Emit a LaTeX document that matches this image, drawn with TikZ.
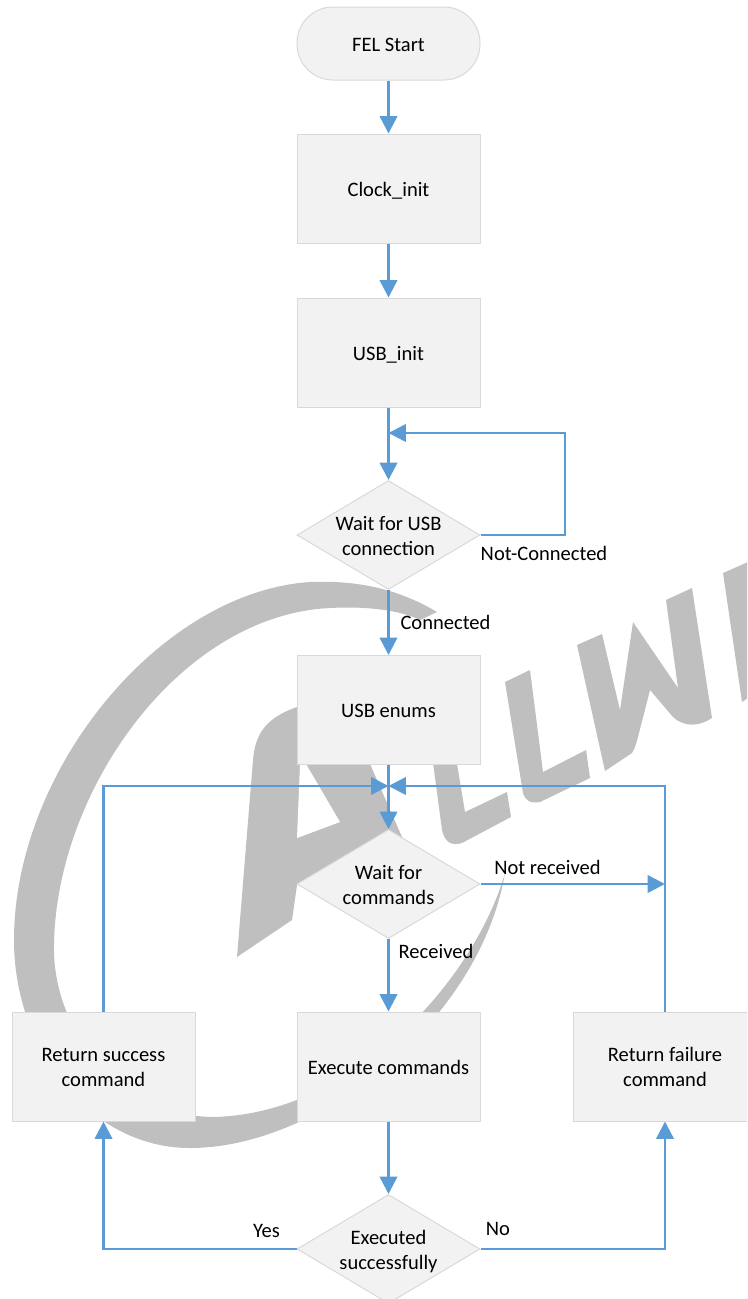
\documentclass[tikz,border=0pt]{standalone}
\usepackage{fontspec}
\setmainfont{Carlito}
\usetikzlibrary{shapes.geometric,arrows.meta}
\definecolor{flow}{HTML}{5B9BD5}
\definecolor{boxfill}{HTML}{F2F2F2}
\definecolor{boxline}{HTML}{D9D9D9}
\definecolor{wm}{HTML}{BFBFBF}
\newcommand\upad[1]{\rule{0pt}{#1}}
\tikzset{
  lab/.style={font=\fontsize{15.4pt}{18.75pt}\selectfont,inner sep=0pt,text=black},
  lowered/.style={execute at begin node={\rule{0pt}{15.5pt}},execute at end node={\rule[-4pt]{0pt}{4pt}}},
  procbox/.style={draw=boxline,fill=boxfill,line width=0.75pt,rectangle,minimum width=137.25pt,minimum height=81.75pt,inner sep=0pt,align=center,font=\fontsize{15.4pt}{18.75pt}\selectfont},
  startbox/.style={procbox,minimum height=54.75pt,rounded corners=27pt},
  decbox/.style={draw=boxline,fill=boxfill,line width=0.75pt,diamond,aspect=1.69,minimum width=137.25pt,minimum height=81.75pt,inner sep=0pt,align=center,font=\fontsize{15.4pt}{18.75pt}\selectfont},
  link/.style={draw=flow,line width=1.9pt,-{Triangle[width=13pt,length=13pt]}}
}
\begin{document}
\begin{tikzpicture}[x=0.75pt,y=-0.75pt]
\useasboundingbox (0,0) rectangle (747,1299);
\clip (0,0) rectangle (747,1299);
% watermark
\fill[wm] (437,612) .. controls (400,590) and (360,580) .. (310,582)
  .. controls (160,592) and (14,770) .. (14,940)
  .. controls (14,1050) and (90,1148) .. (190,1148)
  .. controls (320,1148) and (480,1020) .. (505,873)
  .. controls (476,975) and (360,1112) .. (215,1117)
  .. controls (120,1117) and (52,1030) .. (54,945)
  .. controls (56,790) and (180,615) .. (330,608)
  .. controls (365,606) and (400,610) .. (420,620) -- cycle;
\fill[wm] (320,700) -- (297,707) .. controls (265,718) and (255,735) .. (253,760) -- (237,957) -- (292,920) -- (297,885) -- (388,860) -- (402,837) -- (370,764) -- (350,700) -- cycle;
\fill[white] (300,764) -- (306,764) -- (340,822) -- (297,838) -- cycle;
\fill[wm] (430,740) -- (442,830) .. controls (445,843) and (452,846) .. (462,843) -- (511,817) -- (507,792) -- (465,812) -- (453,740) -- cycle;
\fill[wm] (505,682) -- (530,670) -- (543,772) -- (586,750) -- (590,778) -- (540,802) .. controls (530,804) and (525,800) .. (523,793) -- cycle;
\fill[wm] (577,645) -- (602,634) -- (620,710) -- (633,622) -- (678,688) -- (666,600) -- (692,588) -- (712,718) .. controls (700,726) and (685,728) .. (673,717) -- (650,690) -- (638,737) .. controls (636,745) and (634,750) .. (632,753) -- (605,771) -- cycle;
\fill[wm] (723,573) -- (748,562) -- (748,698) -- (742,702) -- cycle;
% nodes
\node[startbox,lowered] (start) at (388.5,43.5) {FEL Start};
\node[procbox,lowered] (clock) at (388.5,188.5) {Clock\_init};
\node[procbox,lowered] (usb) at (388.5,352.5) {USB\_init};
\node[decbox] (waitusb) at (388.5,535) {\upad{12pt}Wait for USB\\connection};
\node[procbox,lowered] (enums) at (388.5,710) {USB enums};
\node[decbox] (waitcmd) at (388.5,884) {\upad{12pt}Wait for\\commands};
\node[procbox,lowered] (exec) at (388.5,1066.5) {Execute commands};
\node[procbox] (succ) at (103.5,1066.5) {\upad{12pt}Return success\\command};
\node[procbox] (fail) at (665,1066.5) {\upad{12pt}Return failure\\command};
\node[decbox] (done) at (388.5,1249) {\upad{15pt}Executed\\successfully};
\coordinate (j1) at (388.5,433);
\coordinate (j2) at (388.5,786);
\coordinate (j3) at (665,884);
% connectors
\draw[link] (start) -- (clock);
\draw[link] (clock) -- (usb);
\draw[link] (usb) -- (waitusb);
\draw[link] (waitusb.east) -| (565,433) -- (j1);
\draw[link] (waitusb) -- (enums);
\draw[link] (enums) -- (waitcmd);
\draw[link] (succ.north) |- (j2);
\draw[link] (fail.north) |- (j2);
\draw[link] (waitcmd.east) -- (j3);
\draw[link] (waitcmd) -- (exec);
\draw[link] (exec) -- (done);
\draw[link] (done.west) -| (succ.south);
\draw[link] (done.east) -| (fail.south);
% labels
\node[lab] (lnc) at (544,553) {Not-Connected};
\node[lab] (lc) at (445.5,622) {Connected};
\node[lab] (lnr) at (547.5,867) {Not received};
\node[lab] (lr) at (436,951) {Received};
\node[lab] (ly) at (266.5,1231) {Yes};
\node[lab] (ln) at (498,1229) {No};
\end{tikzpicture}
\end{document}
